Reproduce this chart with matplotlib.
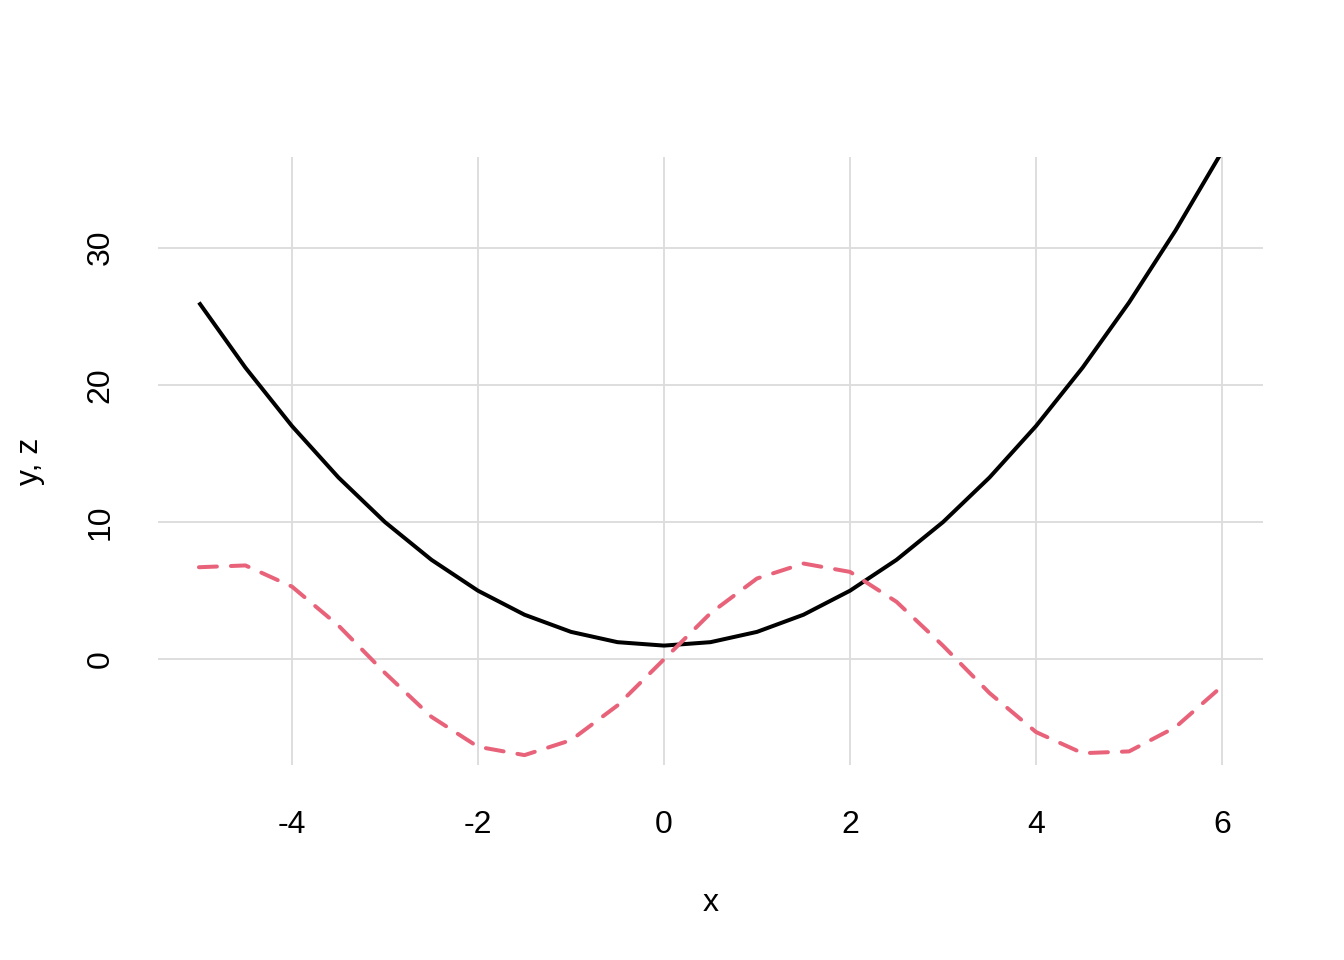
import matplotlib
matplotlib.use("Agg")
import matplotlib.pyplot as plt

x = [-5, -4.5, -4, -3.5, -3, -2.5, -2, -1.5, -1, -0.5, 0, 0.5, 1, 1.5, 2, 2.5, 3, 3.5, 4, 4.5, 5, 5.5, 6]
y = [26, 21.25, 17, 13.25, 10, 7.25, 5, 3.25, 2, 1.25, 1, 1.25, 2, 3.25, 5, 7.25, 10, 13.25, 17, 21.25, 26, 31.25, 37]
z = [6.71, 6.84, 5.30, 2.46, -0.99, -4.19, -6.37, -6.98, -5.89, -3.36, 0.0, 3.36, 5.89, 6.98, 6.37, 4.19, 0.99, -2.46, -5.30, -6.84, -6.71, -4.94, -1.96]
xticks = [-4, -2, 0, 2, 4, 6]
yticks = [0, 10, 20, 30]

plt.rcParams['font.family'] = ['Liberation Sans', 'DejaVu Sans']

fig = plt.figure(figsize=(7, 5), dpi=192)
ax = fig.add_axes([158/1344, 1 - 765/960, (1263-158)/1344, (765-157)/960])

ax.plot(x, y, color='black', lw=1.5, solid_capstyle='butt', zorder=3)
ax.plot(x, z, color='#E8637A', lw=1.5, linestyle=(0, (4.5, 3.5)), dash_capstyle='round', zorder=3)

ax.set_xlim(-5.44, 6.44)
ax.set_ylim(-7.7, 36.6)
ax.set_xticks(xticks)
ax.set_yticks(yticks)
ax.set_xticklabels([str(t) for t in xticks])
ax.set_yticklabels([str(t) for t in yticks], rotation=90, va='center')
ax.grid(True, color='#dcdcdc', lw=0.7)
ax.set_axisbelow(True)
for s in ax.spines.values():
    s.set_visible(False)
ax.tick_params(length=0, labelsize=12)
ax.tick_params(axis='x', pad=17)
ax.tick_params(axis='y', pad=16)
ax.set_xlabel('x', fontsize=12, labelpad=18)
ax.set_ylabel('y, z', fontsize=12, labelpad=15)

fig.savefig('out.png', dpi=192)
